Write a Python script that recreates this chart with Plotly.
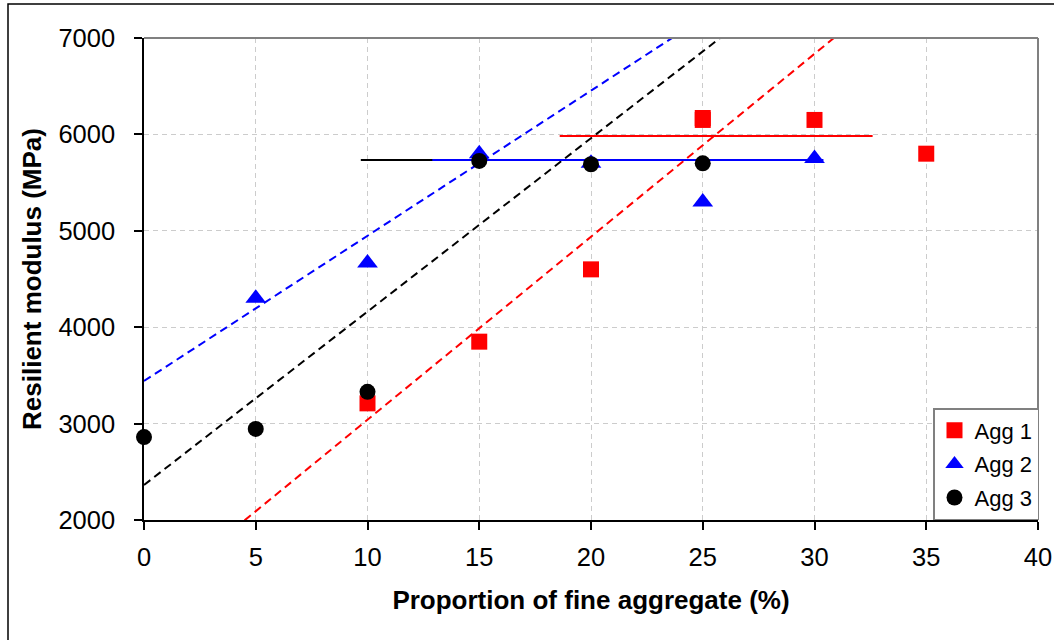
import plotly.graph_objects as go
import numpy as np

# ---- data ----
x_agg1 = [10, 15, 20, 25, 25, 30, 35]
y_agg1 = [3210, 3850, 4600, 6170, 6150, 6150, 5800]
x_agg2 = [5, 10, 15, 20, 25, 30]
y_agg2 = [4300, 4665, 5800, 5700, 5300, 5750]
x_agg3 = [0, 5, 10, 15, 20, 25]
y_agg3 = [2860, 2945, 3330, 5725, 5690, 5700]

# linear trend lines (slope, intercept)
trend_agg1 = [189.8, 1142]
trend_agg2 = [150.6, 3442]
trend_agg3 = [179.9, 2363]

# plateau (horizontal) lines: level and x extent
plateau_agg1 = {"y": 5983, "x": [18.6, 32.6]}
plateau_agg2 = {"y": 5735, "x": [12.9, 30.4]}
plateau_agg3 = {"y": 5735, "x": [9.7, 27.2]}

x_ticks = [0, 5, 10, 15, 20, 25, 30, 35, 40]
y_ticks = [2000, 3000, 4000, 5000, 6000, 7000]

series = [
    ("Agg 1", x_agg1, y_agg1, "red", "square", 16, plateau_agg1, trend_agg1),
    ("Agg 2", x_agg2, y_agg2, "blue", "triangle-up", 18, plateau_agg2, trend_agg2),
    ("Agg 3", x_agg3, y_agg3, "black", "circle", 16, plateau_agg3, trend_agg3),
]

FONT = "Liberation Sans, Arial, sans-serif"

fig = go.Figure()

# trend lines (dashed)
for name, xs, ys, col, sym, sz, plat, tr in series:
    tx = np.array([x_ticks[0], x_ticks[-1]], dtype=float)
    fig.add_trace(go.Scatter(x=tx, y=tr[0] * tx + tr[1], mode="lines",
                             line=dict(color=col, width=2, dash="8px,5px"),
                             showlegend=False, hoverinfo="skip"))
# plateau lines (solid)
for name, xs, ys, col, sym, sz, plat, tr in [series[2], series[1], series[0]]:
    fig.add_trace(go.Scatter(x=plat["x"], y=[plat["y"], plat["y"]], mode="lines",
                             line=dict(color=col, width=2),
                             showlegend=False, hoverinfo="skip"))

# markers
for name, xs, ys, col, sym, sz, plat, tr in series:
    fig.add_trace(go.Scatter(x=xs, y=ys, mode="markers", name=name,
                             legendgroup=name,
                             marker=dict(color=col, symbol=sym, size=sz,
                                         line=dict(width=0)),
                             cliponaxis=False))

grid = dict(showgrid=True, gridcolor="#cccccc", gridwidth=1, griddash="5px,4px")

fig.update_xaxes(range=[0, 40], tickvals=x_ticks, ticks="outside", ticklen=8,
                 tickcolor="black", tickwidth=1.5, showline=True,
                 linecolor="black", linewidth=1.5, zeroline=False,
                 tickfont=dict(family=FONT, size=25.5, color="black"),
                 ticklabelstandoff=6,
                 title=dict(text="<b>Proportion of fine aggregate (%)</b>",
                            font=dict(family=FONT, size=26, color="black"),
                            standoff=20),
                 **grid)
fig.update_yaxes(range=[2000, 7000], tickvals=y_ticks, ticks="outside", ticklen=8,
                 tickcolor="black", tickwidth=1.5, showline=True,
                 linecolor="black", linewidth=1.5, zeroline=False,
                 tickfont=dict(family=FONT, size=25.5, color="black"),
                 ticklabelstandoff=14,
                 title=dict(text="<b>Resilient modulus (MPa)</b>",
                            font=dict(family=FONT, size=26, color="black"),
                            standoff=9),
                 **grid)

L, R, T, B = 144, 16, 38, 120
W, H = 1054, 640
pw, ph = W - L - R, H - T - B

def px_x(p):
    return (p - L) / pw

def px_y(p):
    return (H - B - p) / ph

shapes = [
    # top and right plot-area border (gray)
    dict(type="line", xref="paper", yref="paper", x0=0, x1=1, y0=1, y1=1,
         line=dict(color="#808080", width=2)),
    dict(type="line", xref="paper", yref="paper", x0=1, x1=1, y0=0, y1=1,
         line=dict(color="#808080", width=2)),
    # outer chart border
    dict(type="rect", xref="paper", yref="paper",
         x0=px_x(8), x1=px_x(W + 20), y0=px_y(H + 20), y1=px_y(4),
         line=dict(color="black", width=1.5), fillcolor="rgba(0,0,0,0)"),
]

fig.update_layout(
    width=W, height=H,
    margin=dict(l=L, r=R, t=T, b=B, autoexpand=False),
    paper_bgcolor="white", plot_bgcolor="white",
    font=dict(family=FONT, color="black"),
    shapes=shapes,
    showlegend=True,
    legend=dict(x=px_x(933), y=0, xanchor="left", yanchor="bottom",
                bgcolor="white", bordercolor="#808080", borderwidth=1.5,
                font=dict(family=FONT, size=22, color="black"),
                tracegroupgap=2, traceorder="grouped"),
)

fig.write_html("out.html")
